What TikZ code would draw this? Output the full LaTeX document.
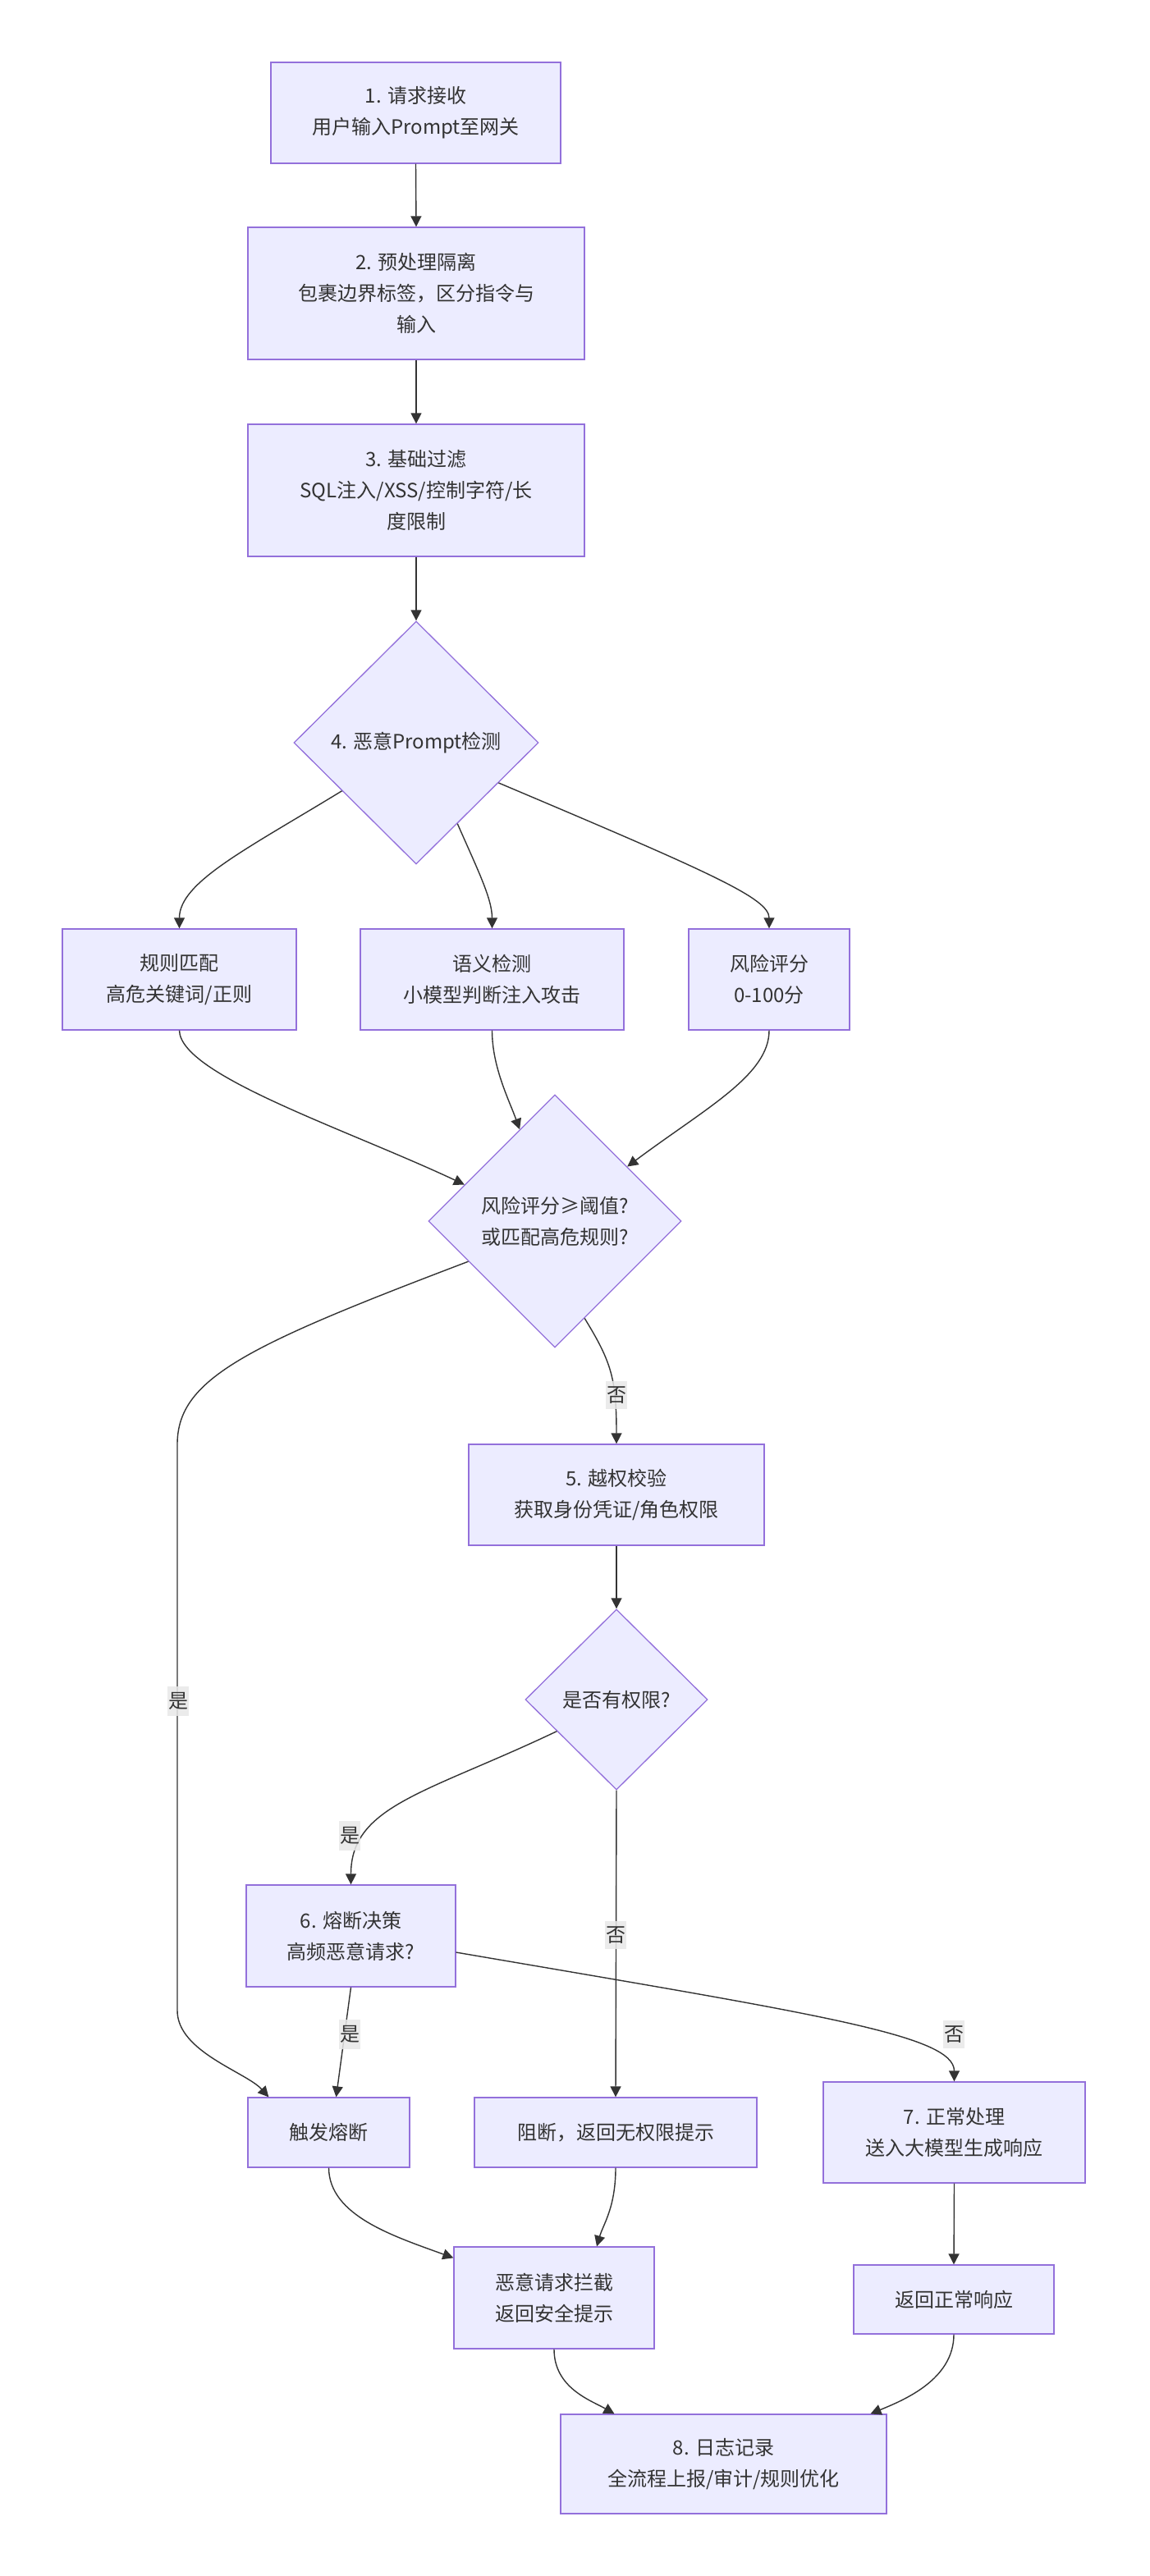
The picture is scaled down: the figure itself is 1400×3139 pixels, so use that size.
\documentclass[tikz,border=0pt]{standalone}
\usepackage{fontspec}
\setmainfont{Noto Sans CJK SC}
\usetikzlibrary{shapes.geometric,arrows.meta,calc}
\definecolor{boxfill}{HTML}{ECECFF}
\definecolor{boxline}{HTML}{9370DB}
\definecolor{textcol}{HTML}{333333}
\definecolor{linecol}{HTML}{333333}
\definecolor{lblbg}{HTML}{E8E8E8}
\begin{document}
\begin{tikzpicture}[x=1pt,y=-1pt,
  procbox/.style={draw=boxline, fill=boxfill, line width=1.3pt, inner sep=0pt, align=center,
    text=textcol, font=\fontsize{24}{38}\selectfont},
  decbox/.style={diamond, draw=boxline, fill=boxfill, line width=1.3pt, inner sep=0pt, align=center,
    text=textcol, font=\fontsize{24}{38}\selectfont},
  flow/.style={draw=linecol, line width=1.4pt, -{Triangle[length=13pt,width=13pt]}},
  lbl/.style={fill=lblbg, fill opacity=0.85, text opacity=1, text=textcol, inner xsep=1pt,
    inner ysep=7pt, font=\fontsize{24}{30}\selectfont}]
\useasboundingbox (0,0) rectangle (1400,3139);
\fill[white] (0,0) rectangle (1400,3139);

% nodes
\node[procbox, minimum width=353pt, minimum height=123pt] (b1) at (506.5,137.5) {1. 请求接收\\用户输入Prompt至网关};
\node[procbox, minimum width=410pt, minimum height=161pt] (b2) at (507,357.5) {2. 预处理隔离\\包裹边界标签，区分指令与\\输入};
\node[procbox, minimum width=410pt, minimum height=161pt] (b3) at (507,597.5) {3. 基础过滤\\SQL注入/XSS/控制字符/长\\度限制};
\node[decbox, minimum width=298pt, minimum height=296pt] (d4) at (507,905) {4. 恶意Prompt检测};
\node[procbox, minimum width=285pt, minimum height=123pt] (rule) at (218.5,1193.5) {规则匹配\\高危关键词/正则};
\node[procbox, minimum width=321pt, minimum height=123pt] (sem) at (599.5,1193.5) {语义检测\\小模型判断注入攻击};
\node[procbox, minimum width=196pt, minimum height=123pt] (risk) at (937,1193.5) {风险评分\\0-100分};
\node[decbox, minimum width=308pt, minimum height=308pt] (d2) at (676,1488) {风险评分≥阈值?\\或匹配高危规则?};
\node[procbox, minimum width=360pt, minimum height=123pt] (b5) at (751,1821.5) {5. 越权校验\\获取身份凭证/角色权限};
\node[decbox, minimum width=222pt, minimum height=220pt] (d3) at (751,2071) {是否有权限?};
\node[procbox, minimum width=255pt, minimum height=124pt] (b6) at (427.5,2359) {6. 熔断决策\\高频恶意请求?};
\node[procbox, minimum width=197pt, minimum height=85pt] (trig) at (400.5,2598.5) {触发熔断};
\node[procbox, minimum width=344pt, minimum height=85pt] (blk) at (750,2598.5) {阻断，返回无权限提示};
\node[procbox, minimum width=319pt, minimum height=123pt] (b7) at (1162.5,2598.5) {7. 正常处理\\送入大模型生成响应};
\node[procbox, minimum width=244pt, minimum height=124pt] (int) at (675,2800) {恶意请求拦截\\返回安全提示};
\node[procbox, minimum width=244pt, minimum height=84pt] (ok) at (1162,2802) {返回正常响应};
\node[procbox, minimum width=397pt, minimum height=121pt] (b8) at (881.5,3002.5) {8. 日志记录\\全流程上报/审计/规则优化};

% edges
\draw[flow] (b1.south) -- (b2.north);
\draw[flow] (b2.south) -- (b3.north);
\draw[flow] (b3.south) -- (d4.north);
\draw[flow] (d4.213) .. controls (300,1035) and (218.5,1075) .. (rule.north);
\draw[flow] (d4.297) .. controls (582,1060) and (599.5,1095) .. (sem.north);
\draw[flow] (d4.334) .. controls (870,1065) and (937,1095) .. (risk.north);
\draw[flow] (rule.south) .. controls (220,1310) and (420,1375) .. (d2.158);
\draw[flow] (sem.south) .. controls (599.5,1300) and (620,1340) .. (d2.111);
\draw[flow] (risk.south) .. controls (937,1310) and (860,1350) .. (d2.37);
\draw[flow] (d2.205) .. controls (300,1640) and (216,1680) .. (216,1760) -- (216,2450)
  .. controls (216,2500) and (300,2525) .. ($(trig.north west)+(26,0)$);
\draw[flow] (d2.287) .. controls (745,1660) and (751,1680) .. (b5.north);
\draw[flow] (b5.south) -- (d3.north);
\draw[flow] (d3.208) .. controls (520,2185) and (427.5,2200) .. (b6.north);
\draw[flow] (d3.south) -- (blk.north);
\draw[flow] (b6.south) -- ($(trig.north)+(9,0)$);
\draw[flow] ($(b6.east)+(0,20)$) .. controls (1000,2455) and (1162.5,2480) .. (b7.north);
\draw[flow] (trig.south) .. controls (401,2700) and (480,2725) .. ($(int.north west)+(0,14)$);
\draw[flow] (blk.south) .. controls (750,2690) and (735,2710) .. ($(int.north)+(52,0)$);
\draw[flow] (b7.south) -- (ok.north);
\draw[flow] (int.south) .. controls (675,2910) and (720,2925) .. ($(b8.north)+(-133,0)$);
\draw[flow] (ok.south) .. controls (1162,2900) and (1100,2925) .. ($(b8.north)+(179,0)$);

% labels
\node[lbl] (l1) at (217,2073) {是};
\node[lbl] (l2) at (751,1700) {否};
\node[lbl] (l3) at (426,2237) {是};
\node[lbl] (l4) at (750,2358) {否};
\node[lbl] (l5) at (426,2479) {是};
\node[lbl] (l6) at (1162,2479) {否};
\end{tikzpicture}
\end{document}
